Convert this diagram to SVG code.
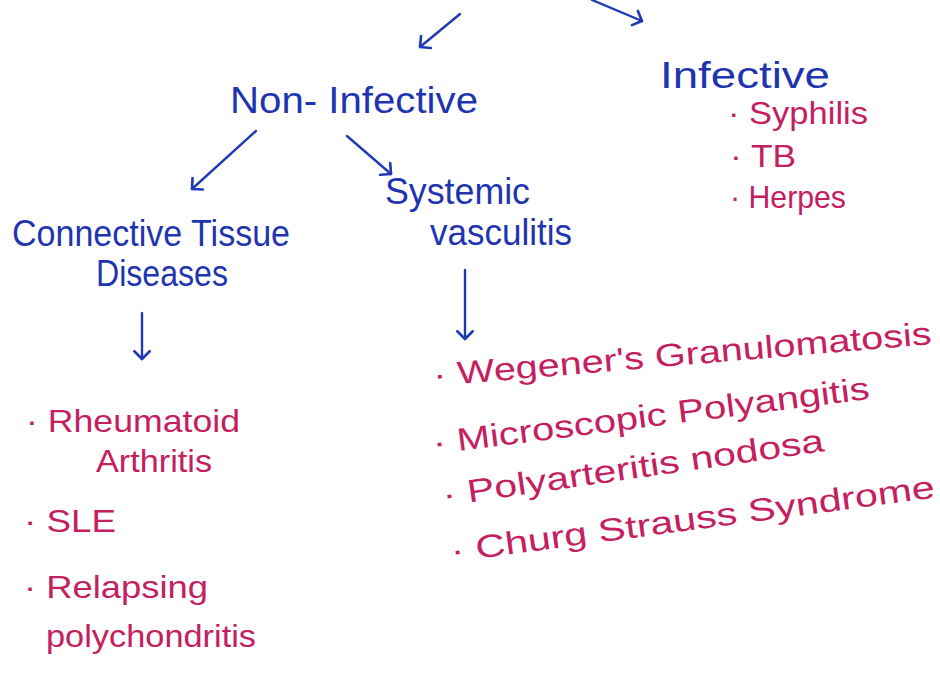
<svg xmlns="http://www.w3.org/2000/svg" width="940" height="673" viewBox="0 0 940 673">
<defs>
<marker id="ah" viewBox="-10 -10 20 20" markerWidth="22" markerHeight="22" refX="0" refY="0" orient="auto" markerUnits="userSpaceOnUse">
<path d="M-7,-7 L0,0 L-7,7" fill="none" stroke="#1f3bb3" stroke-width="2.4" stroke-linecap="round" stroke-linejoin="round"/>
</marker>
<style>
.h{font-family:"Liberation Sans","DejaVu Sans",sans-serif;fill:#1f35b0;font-size:36px}
.p{font-family:"Liberation Sans","DejaVu Sans",sans-serif;fill:#c42060;font-size:32px}
.c{fill:none;stroke:#1f3bb3;stroke-width:2.4;stroke-linecap:round}
</style>
</defs>
<rect width="940" height="673" fill="#ffffff"/>
<g id="connectors">
<path class="c" d="M460,14 L420,47" marker-end="url(#ah)"/>
<path class="c" d="M592,0 L642,21" marker-end="url(#ah)"/>
<path class="c" d="M256,131 L192,189" marker-end="url(#ah)"/>
<path class="c" d="M347,136 L391,174" marker-end="url(#ah)"/>
<path class="c" d="M142,313 L142,359" marker-end="url(#ah)"/>
<path class="c" d="M465,270 L465,339" marker-end="url(#ah)"/>
</g>
<g id="non-infective"><text class="h" x="230" y="113" textLength="248" lengthAdjust="spacingAndGlyphs">Non- Infective</text></g>
<g id="infective">
<text class="h" x="660" y="88" textLength="170" lengthAdjust="spacingAndGlyphs">Infective</text>
<text class="p" x="728" y="124" font-size="30" textLength="140" lengthAdjust="spacingAndGlyphs">· Syphilis</text>
<text class="p" x="730" y="167" font-size="30" textLength="66" lengthAdjust="spacingAndGlyphs">· TB</text>
<text class="p" x="730" y="208" font-size="30" textLength="116" lengthAdjust="spacingAndGlyphs">· Herpes</text>
</g>
<g id="connective-tissue">
<text class="h" x="12" y="246" font-size="33" textLength="278" lengthAdjust="spacingAndGlyphs">Connective Tissue</text>
<text class="h" x="96" y="286" font-size="33" textLength="132" lengthAdjust="spacingAndGlyphs">Diseases</text>
</g>
<g id="systemic-vasculitis">
<text class="h" x="385" y="204" textLength="145" lengthAdjust="spacingAndGlyphs">Systemic</text>
<text class="h" x="430" y="245" textLength="142" lengthAdjust="spacingAndGlyphs">vasculitis</text>
</g>
<g id="ctd-list">
<text class="p" x="26" y="432" textLength="214" lengthAdjust="spacingAndGlyphs">· Rheumatoid</text>
<text class="p" x="96" y="472" textLength="116" lengthAdjust="spacingAndGlyphs">Arthritis</text>
<text class="p" x="24" y="532" textLength="92" lengthAdjust="spacingAndGlyphs">·  SLE</text>
<text class="p" x="24" y="598" textLength="184" lengthAdjust="spacingAndGlyphs">· Relapsing</text>
<text class="p" x="46" y="647" textLength="210" lengthAdjust="spacingAndGlyphs">polychondritis</text>
</g>
<g id="vasculitis-list">
<text class="p" x="434" y="386" font-size="36" transform="rotate(-4.8 434 386)" textLength="500" lengthAdjust="spacingAndGlyphs">· Wegener's  Granulomatosis</text>
<text class="p" x="434" y="454" font-size="36" transform="rotate(-7.2 434 454)" textLength="440" lengthAdjust="spacingAndGlyphs">· Microscopic  Polyangitis</text>
<text class="p" x="444" y="506" font-size="36" transform="rotate(-8.2 444 506)" textLength="385" lengthAdjust="spacingAndGlyphs">· Polyarteritis  nodosa</text>
<text class="p" x="452" y="562" font-size="36" transform="rotate(-7.6 452 562)" textLength="488" lengthAdjust="spacingAndGlyphs">· Churg  Strauss  Syndrome</text>
</g>
</svg>
